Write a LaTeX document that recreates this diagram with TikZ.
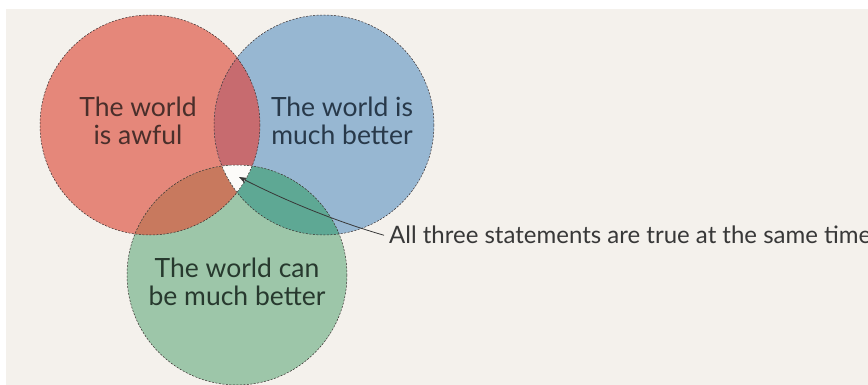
\documentclass[tikz,border=0pt]{standalone}
\usepackage{fontspec}
\setmainfont{Lato}
\usetikzlibrary{arrows.meta}
\definecolor{bgc}{HTML}{F4F1EC}
\definecolor{cred}{HTML}{E5877A}
\definecolor{cblue}{HTML}{97B7D2}
\definecolor{cgreen}{HTML}{9DC6A9}
\definecolor{crb}{HTML}{C76B6F}
\definecolor{crg}{HTML}{C8795E}
\definecolor{cbg}{HTML}{5EA894}
\definecolor{ctri}{HTML}{FCFBF9}
\definecolor{tred}{HTML}{4A2F2B}
\definecolor{tblue}{HTML}{28394A}
\definecolor{tgreen}{HTML}{27392E}
\definecolor{tlab}{HTML}{383838}
\definecolor{edge}{HTML}{3A3030}
\tikzset{
  outline/.style={draw=edge, line width=0.5pt, dash pattern=on 2pt off 1.5pt},
  circtext/.style={font=\fontsize{26.5}{28}\selectfont, align=center, inner sep=0pt, anchor=base},
  labtext/.style={font=\fontsize{24}{28}\selectfont, text=tlab, inner sep=0pt, anchor=base west},
  pointer/.style={draw=tlab, line width=0.8pt, -{Stealth[length=8pt,width=6pt]}}
}
\begin{document}
\begin{tikzpicture}[x=1pt,y=-1pt]
\useasboundingbox (0,0) rectangle (868,385);
\fill[white] (0,0) rectangle (868,385);
\fill[bgc] (6,9) rectangle (868,385);
\def\rR{110}
% base fills
\fill[cred] (150,125) circle (\rR);
\fill[cblue] (324,125) circle (\rR);
\fill[cgreen] (237,275) circle (\rR);
% pairwise overlaps
\begin{scope}
  \clip (150,125) circle (\rR);
  \fill[crb] (324,125) circle (\rR);
\end{scope}
\begin{scope}
  \clip (150,125) circle (\rR);
  \fill[crg] (237,275) circle (\rR);
\end{scope}
\begin{scope}
  \clip (324,125) circle (\rR);
  \fill[cbg] (237,275) circle (\rR);
\end{scope}
\begin{scope}
  \clip (150,125) circle (\rR);
  \clip (324,125) circle (\rR);
  \fill[ctri] (237,275) circle (\rR);
\end{scope}
% outlines
\draw[outline] (150,125) circle (\rR);
\draw[outline] (324,125) circle (\rR);
\draw[outline] (237,275) circle (\rR);
% texts
\node[circtext, text=tred] (awful) at (138,145) {The world\\is awful};
\node[circtext, text=tblue] (better) at (342,145) {The world is\\much better};
\node[circtext, text=tgreen] (can) at (237,305) {The world can\\be much better};
\node[labtext] (lab) at (389,243) {All three statements are true at the same time};
\coordinate (tip) at (239,177);
\draw[pointer] ([xshift=-5pt,yshift=-1pt]lab.west) .. controls (338,222) and (288,202) .. (tip);
\end{tikzpicture}
\end{document}
